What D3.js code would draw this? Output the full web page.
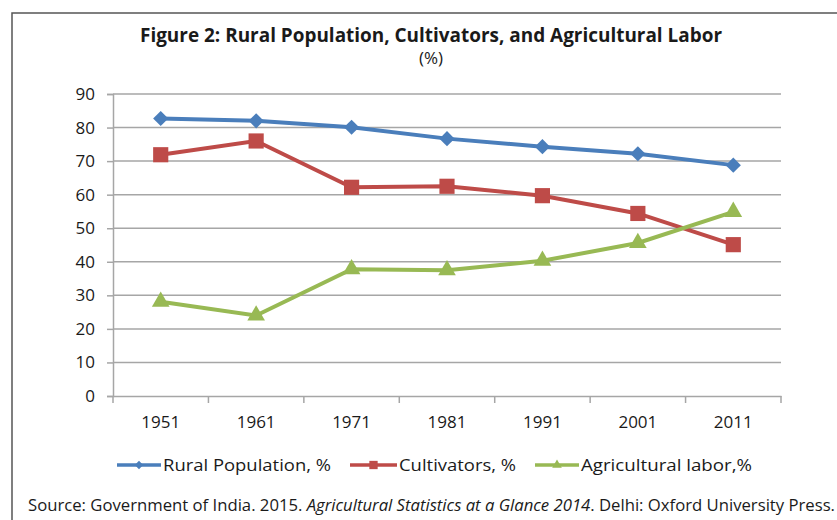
<!DOCTYPE html>
<html>
<head>
<meta charset="utf-8">
<script src="https://cdn.jsdelivr.net/npm/d3@7"></script>
<style>
  body { margin: 0; background: #fff; }
  text { font-family: "Open Sans", "Noto Sans", sans-serif; fill: #1a1a1a; }
</style>
</head>
<body>
<div id="chart"></div>
<script>
const years = ["1951", "1961", "1971", "1981", "1991", "2001", "2011"];
const ruralPopulation = [82.7, 82.0, 80.1, 76.7, 74.3, 72.2, 68.8];
const cultivators = [71.9, 76.0, 62.2, 62.5, 59.7, 54.4, 45.1];
const agriculturalLabor = [28.1, 24.0, 37.8, 37.5, 40.3, 45.6, 54.9];
const yTicks = [0, 10, 20, 30, 40, 50, 60, 70, 80, 90];

const series = [
  { name: "Rural Population, %", values: ruralPopulation, color: "#4a7ebb", symbol: d3.symbolSquare, rotate: 45, size: 115 },
  { name: "Cultivators, %", values: cultivators, color: "#be4b48", symbol: d3.symbolSquare, rotate: 0, size: 230 },
  { name: "Agricultural labor,%", values: agriculturalLabor, color: "#98b954", symbol: d3.symbolTriangle, rotate: 0, size: 135 }
];

const width = 837, height = 520;
const svg = d3.select("#chart").append("svg")
  .attr("width", width).attr("height", height);

// outer frame (right / bottom edges run off the page)
svg.append("rect")
  .attr("x", 12).attr("y", 13).attr("width", 860).attr("height", 540)
  .attr("fill", "none").attr("stroke", "#555").attr("stroke-width", 1.5);

const x = d3.scaleBand().domain(years).range([113, 781]);
const y = d3.scaleLinear().domain([0, 90]).range([396, 94]);

// gridlines
svg.append("g").selectAll("line")
  .data(yTicks.slice(1)).enter().append("line")
  .attr("x1", 113).attr("x2", 781)
  .attr("y1", d => y(d)).attr("y2", d => y(d))
  .attr("stroke", "#a6a6a6").attr("stroke-width", 1.5);

// y axis
const yAxis = svg.append("g").attr("transform", "translate(113,0)")
  .attr("font-size", 17).attr("font-family", "Open Sans")
  .call(d3.axisLeft(y).tickValues(yTicks).tickSize(6).tickPadding(12));
yAxis.attr("font-size", 17).attr("font-family", "Open Sans");
yAxis.select(".domain").attr("stroke", "#a6a6a6").attr("stroke-width", 1.5);
yAxis.selectAll(".tick line").attr("stroke", "#a6a6a6").attr("stroke-width", 1.5);
yAxis.selectAll("text").attr("fill", "#1a1a1a");

// x axis
const xAxis = svg.append("g").attr("transform", "translate(0,396)")
  .call(d3.axisBottom(x).tickSize(0).tickPadding(20));
xAxis.attr("font-size", 17).attr("font-family", "Open Sans");
xAxis.select(".domain").attr("stroke", "#a6a6a6").attr("stroke-width", 1.5);
xAxis.selectAll("text").attr("fill", "#1a1a1a");
const bounds = years.map(d => x(d)).concat([x.range()[1]]);
svg.append("g").selectAll("line")
  .data(bounds).enter().append("line")
  .attr("x1", d => d).attr("x2", d => d)
  .attr("y1", 396).attr("y2", 403)
  .attr("stroke", "#a6a6a6").attr("stroke-width", 1.5);

const cx = d => x(d) + x.bandwidth() / 2;
const line = d3.line().x((d, i) => cx(years[i])).y(d => y(d));

series.forEach(s => {
  svg.append("path")
    .datum(s.values)
    .attr("d", line)
    .attr("fill", "none")
    .attr("stroke", s.color)
    .attr("stroke-width", 4);
  svg.append("g").selectAll("path")
    .data(s.values).enter().append("path")
    .attr("transform", (d, i) => `translate(${cx(years[i])},${y(d)}) rotate(${s.rotate})`)
    .attr("d", d3.symbol().type(s.symbol).size(s.size))
    .attr("fill", s.color);
});

// titles
svg.append("text")
  .attr("x", 431).attr("y", 42)
  .attr("text-anchor", "middle")
  .attr("font-size", 20).attr("font-weight", "bold")
  .attr("textLength", 582).attr("lengthAdjust", "spacingAndGlyphs")
  .text("Figure 2: Rural Population, Cultivators, and Agricultural Labor");
svg.append("text")
  .attr("x", 431).attr("y", 64)
  .attr("text-anchor", "middle")
  .attr("font-size", 17)
  .text("(%)");

// legend: line start, line end, text end
const legendItems = [
  { x0: 117, x1: 161, end: 331 },
  { x0: 350, x1: 397, end: 516 },
  { x0: 535, x1: 579, end: 752 }
];
series.forEach((s, i) => {
  const it = legendItems[i];
  svg.append("line").attr("x1", it.x0).attr("x2", it.x1).attr("y1", 465).attr("y2", 465)
    .attr("stroke", s.color).attr("stroke-width", 3.5);
  svg.append("path")
    .attr("transform", `translate(${(it.x0 + it.x1) / 2},465) rotate(${s.rotate})`)
    .attr("d", d3.symbol().type(s.symbol).size(s.size * 0.3)).attr("fill", s.color);
  svg.append("text").attr("x", it.x1 + 2).attr("y", 471)
    .attr("font-size", 17)
    .attr("textLength", it.end - it.x1 - 2).attr("lengthAdjust", "spacingAndGlyphs")
    .text(s.name);
});

// source note
const src = svg.append("text")
  .attr("x", 28).attr("y", 511)
  .attr("font-size", 16)
  .attr("textLength", 807).attr("lengthAdjust", "spacingAndGlyphs");
src.append("tspan").text("Source: Government of India. 2015. ");
src.append("tspan").attr("font-style", "italic").text("Agricultural Statistics at a Glance 2014");
src.append("tspan").text(". Delhi: Oxford University Press.");
</script>
</body>
</html>
